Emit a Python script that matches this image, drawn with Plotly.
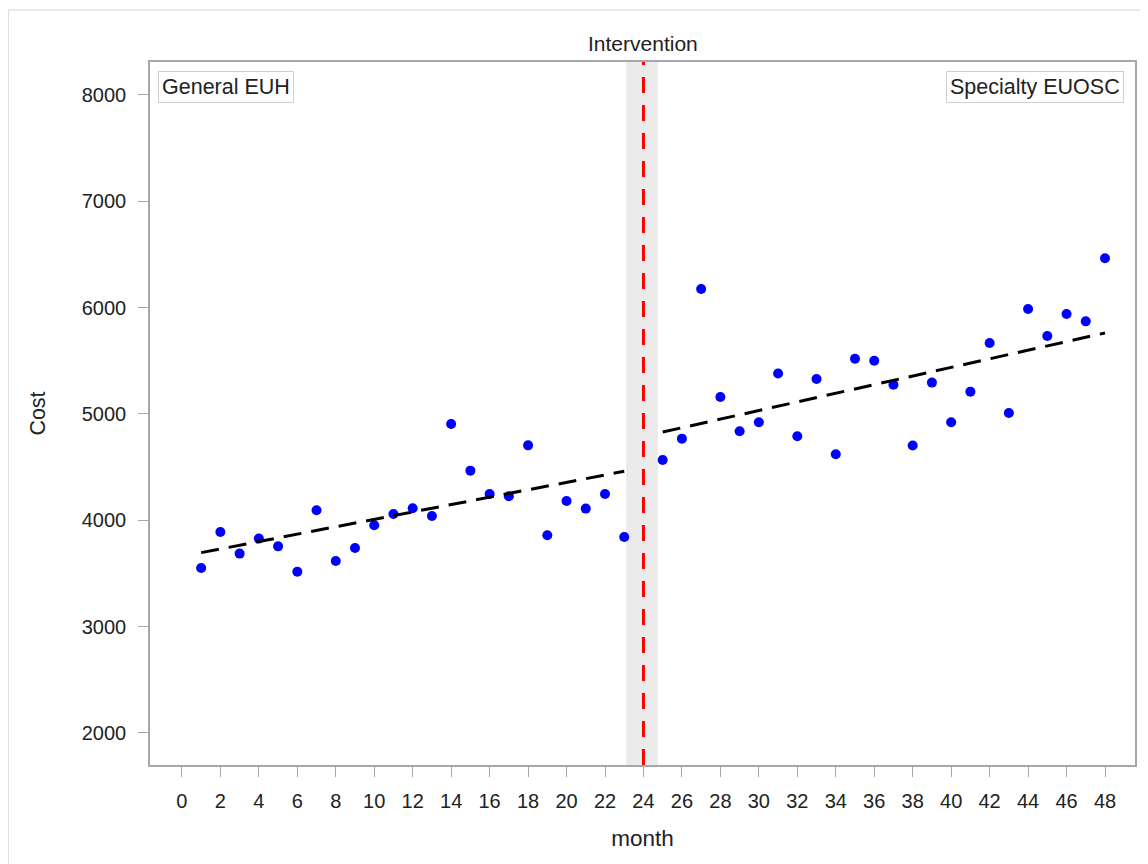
import plotly.graph_objects as go

# ---- data ----
months = [1, 2, 3, 4, 5, 6, 7, 8, 9, 10, 11, 12, 13, 14, 15, 16, 17, 18, 19, 20, 21, 22, 23,
          25, 26, 27, 28, 29, 30, 31, 32, 33, 34, 35, 36, 37, 38, 39, 40, 41, 42, 43, 44, 45, 46, 47, 48]
cost = [3551, 3890, 3687, 3828, 3755, 3517, 4094, 3617, 3740, 3953, 4059, 4113, 4040, 4906, 4467,
        4247, 4226, 4705, 3859, 4182, 4110, 4247, 3843,
        4567, 4768, 6175, 5160, 4837, 4922, 5380, 4790, 5329, 4621, 5520, 5500, 5276, 4703, 5295,
        4922, 5210, 5668, 5009, 5987, 5733, 5940, 5871, 6464]

trend_pre_months = [1, 23]
trend_pre_values = [3696, 4461]
trend_post_months = [25, 48]
trend_post_values = [4830, 5762]

intervention_month = 24
band_range = [23.1, 24.75]

x_ticks = list(range(0, 49, 2))
y_ticks = [2000, 3000, 4000, 5000, 6000, 7000, 8000]

FONT = "Liberation Sans, Arial, sans-serif"
AXIS_COLOR = "#A3A8AD"

fig = go.Figure()

fig.add_trace(go.Scatter(x=months, y=cost, mode="markers",
                         marker=dict(color="#0000FF", size=10, line=dict(width=0)),
                         showlegend=False, cliponaxis=False))
fig.add_trace(go.Scatter(x=trend_pre_months, y=trend_pre_values, mode="lines",
                         line=dict(color="black", width=3, dash="18px,10px"), showlegend=False))
fig.add_trace(go.Scatter(x=trend_post_months, y=trend_post_values, mode="lines",
                         line=dict(color="black", width=3, dash="18px,10px"), showlegend=False))

# gray band and red intervention line
fig.add_shape(type="rect", xref="x", yref="paper", x0=band_range[0], x1=band_range[1],
              y0=0, y1=1, fillcolor="#EBEBEB", line=dict(width=0), layer="below")
fig.add_shape(type="line", xref="x", yref="paper", x0=intervention_month, x1=intervention_month,
              y0=0, y1=1, line=dict(color="#FF0000", width=3, dash="16px,12px"), layer="above")

# outer frame
fig.add_shape(type="rect", xref="paper", yref="paper", x0=-0.1439, x1=1.3, y0=-0.3, y1=1.074,
              line=dict(color="#D3D3D3", width=1), fillcolor="rgba(0,0,0,0)", layer="below")

fig.add_annotation(text="Intervention", xref="x", yref="paper", x=intervention_month, y=1,
                   yanchor="bottom", xanchor="center", yshift=5, showarrow=False,
                   font=dict(family=FONT, size=21, color="#222"))
fig.add_annotation(text="General EUH", xref="paper", yref="paper", x=0.008, y=0.987,
                   xanchor="left", yanchor="top", showarrow=False,
                   bordercolor="#CFCFCF", borderwidth=1, borderpad=3, bgcolor="white",
                   font=dict(family=FONT, size=21.5, color="#222"))
fig.add_annotation(text="Specialty EUOSC", xref="paper", yref="paper", x=0.989, y=0.987,
                   xanchor="right", yanchor="top", showarrow=False,
                   bordercolor="#CFCFCF", borderwidth=1, borderpad=3, bgcolor="white",
                   font=dict(family=FONT, size=21.5, color="#222"))

fig.update_layout(
    width=1140, height=856,
    margin=dict(l=142, r=11, t=54, b=99),
    paper_bgcolor="white", plot_bgcolor="white",
    font=dict(family=FONT, size=20, color="#222"),
    xaxis=dict(range=[-1.66, 49.56], tickvals=x_ticks, ticks="outside", ticklen=10,
               tickcolor=AXIS_COLOR, showline=True, linecolor=AXIS_COLOR, linewidth=1.5, mirror=True,
               showgrid=False, zeroline=False, tickfont=dict(size=20), ticklabelstandoff=7,
               title=dict(text="month", font=dict(size=22.5), standoff=19)),
    yaxis=dict(range=[1699, 8310], tickvals=y_ticks, ticks="outside", ticklen=10,
               tickcolor=AXIS_COLOR, showline=True, linecolor=AXIS_COLOR, linewidth=1.5, mirror=True,
               showgrid=False, zeroline=False, tickfont=dict(size=20), ticklabelstandoff=8,
               title=dict(text="Cost", font=dict(size=21.5), standoff=30)),
)

fig.write_html("out.html")
